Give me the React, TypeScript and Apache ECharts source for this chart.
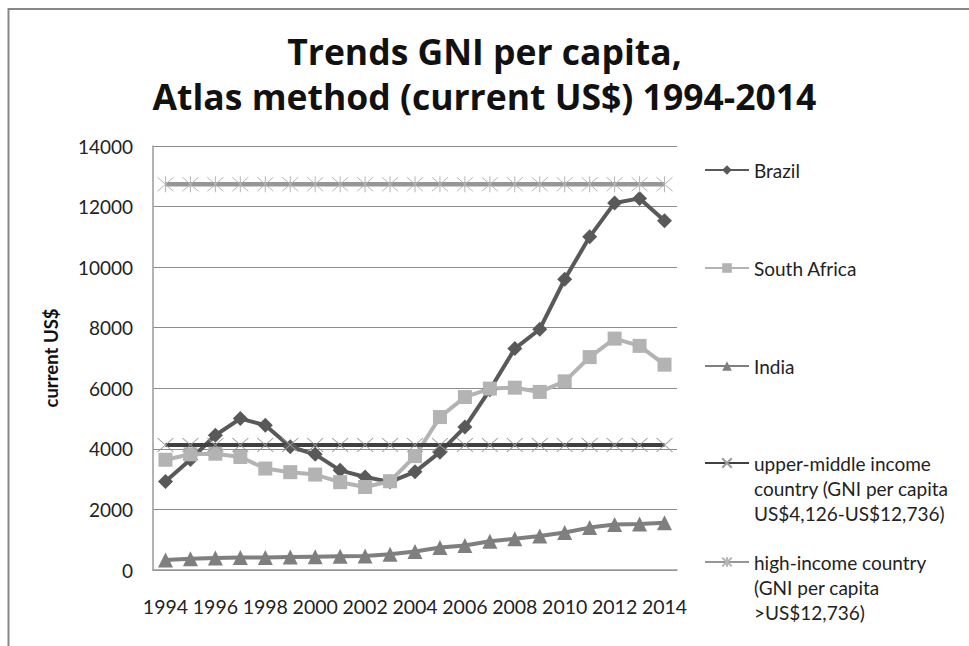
import React, { useEffect, useRef } from "react";
import * as echarts from "echarts";

const years = ["1994","1995","1996","1997","1998","1999","2000","2001","2002","2003","2004","2005","2006","2007","2008","2009","2010","2011","2012","2013","2014"];
const brazil = [2920, 3650, 4450, 5000, 4780, 4070, 3820, 3290, 3070, 2910, 3240, 3890, 4720, 5950, 7310, 7950, 9600, 11000, 12120, 12270, 11530];
const southAfrica = [3640, 3820, 3840, 3730, 3350, 3230, 3150, 2900, 2740, 2930, 3760, 5050, 5710, 5990, 6020, 5880, 6230, 7030, 7640, 7400, 6780];
const india = [330, 370, 400, 410, 410, 430, 440, 450, 460, 520, 610, 740, 810, 950, 1030, 1120, 1240, 1400, 1500, 1520, 1560];
const upperMiddle = years.map(() => 4126);
const highIncome = years.map(() => 12736);

const names = [
  "Brazil",
  "South Africa",
  "India",
  "upper-middle income\ncountry (GNI per capita\nUS$4,126-US$12,736)",
  "high-income country\n(GNI per capita\n>US$12,736)",
];
const legendCenters = [170, 268, 366, 463, 562];

const FONT = "Lato";

export default function App() {
  const ref = useRef<HTMLDivElement>(null);
  useEffect(() => {
    if (!ref.current) return;
    const chart = echarts.init(ref.current, undefined, { renderer: "svg" });
    const xPath = "path://M0 0 L16 14 M16 0 L0 14";
    const starPath = "path://M0 0 L16 14 M16 0 L0 14 M8 -1 L8 15";
    const lh = 25;
    const legends = names.map((n, i) => {
      const lines = n.split("\n").length;
      const pad = lines - 1;
      return {
        orient: "vertical",
        left: 704,
        top: legendCenters[i] - ((lines + pad) * lh) / 2,
        padding: 0,
        itemWidth: 44,
        itemHeight: 12,
        itemGap: 5,
        textStyle: { fontFamily: FONT, fontSize: 19, color: "#222", lineHeight: lh },
        formatter: (name: string) => "\n".repeat(pad) + name,
        data: [n],
      };
    });
    chart.setOption({
      animation: false,
      backgroundColor: "#fff",
      title: {
        text: "Trends GNI per capita,\nAtlas method (current US$) 1994-2014",
        left: "center",
        top: 23,
        textStyle: { fontFamily: "Open Sans", fontWeight: "bold", fontSize: 35.5, color: "#111", lineHeight: 45 },
      },
      graphic: [
        {
          type: "rect",
          shape: { x: 8.5, y: 9, width: 1100, height: 1100 },
          style: { fill: "none", stroke: "#878787", lineWidth: 2 },
          silent: true,
        },
      ],
      legend: legends,
      grid: { left: 153, top: 146, width: 524, height: 424 },
      xAxis: {
        type: "category",
        data: years,
        boundaryGap: true,
        axisLine: { lineStyle: { color: "#9a9a9a", width: 1.5 } },
        axisTick: { show: false },
        axisLabel: { interval: 1, fontFamily: FONT, fontSize: 19.5, color: "#222", margin: 26 },
      },
      yAxis: {
        type: "value",
        min: 0,
        max: 14000,
        interval: 2000,
        name: "current US$",
        nameLocation: "middle",
        nameGap: 93,
        nameTextStyle: { fontFamily: FONT, fontWeight: "bold", fontSize: 18.5, color: "#111" },
        axisLine: { show: true, lineStyle: { color: "#9a9a9a", width: 1.5 } },
        axisTick: { show: false },
        axisLabel: { fontFamily: FONT, fontSize: 19, color: "#222", margin: 20, formatter: (v: number) => String(v) },
        splitLine: { lineStyle: { color: "#8c8c8c", width: 1 } },
      },
      series: [
        {
          name: names[0],
          type: "line",
          data: brazil,
          symbol: "diamond",
          symbolSize: 15,
          lineStyle: { color: "#595959", width: 4 },
          itemStyle: { color: "#595959" },
        },
        {
          name: names[1],
          type: "line",
          data: southAfrica,
          symbol: "rect",
          symbolSize: 14,
          lineStyle: { color: "#b3b3b3", width: 4 },
          itemStyle: { color: "#b3b3b3" },
        },
        {
          name: names[2],
          type: "line",
          data: india,
          symbol: "triangle",
          symbolSize: 15,
          lineStyle: { color: "#7f7f7f", width: 4 },
          itemStyle: { color: "#7f7f7f" },
        },
        {
          name: names[3],
          type: "line",
          data: upperMiddle,
          symbol: xPath,
          symbolSize: [16, 14],
          lineStyle: { color: "#404040", width: 4 },
          itemStyle: { color: "none", borderColor: "#9a9a9a", borderWidth: 1 },
        },
        {
          name: names[4],
          type: "line",
          data: highIncome,
          symbol: starPath,
          symbolSize: [16, 16],
          lineStyle: { color: "#969696", width: 4.5 },
          itemStyle: { color: "none", borderColor: "#b5b5b5", borderWidth: 1 },
        },
      ],
    });
    return () => chart.dispose();
  }, []);
  return (
    <div
      ref={ref}
      style={{ position: "absolute", left: 0, top: 0, width: 969, height: 646 }}
    />
  );
}
